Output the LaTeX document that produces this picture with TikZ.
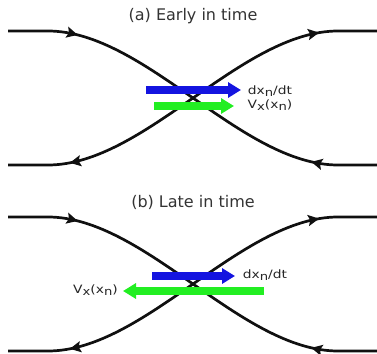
\documentclass[tikz,border=0pt]{standalone}
\usepackage{fontspec}
\setmainfont{DejaVu Sans}
\newfontfamily\labelfont[FakeStretch=1.2]{DejaVu Sans}
\usetikzlibrary{arrows.meta, decorations.markings}
\definecolor{velblue}{HTML}{1414E0}
\definecolor{fieldgreen}{HTML}{22EE22}
\definecolor{orbit}{HTML}{101010}
\newcommand{\lowidx}[1]{\raisebox{-2.2pt}{\fontsize{11}{13}\selectfont #1}}

\begin{document}
\begin{tikzpicture}[
  x=1pt, y=-1pt,
  flowtip/.tip={Stealth[length=11pt, width=11pt, inset=2pt]},
  orbitline/.style={draw=orbit, line width=2.7pt},
  inflow/.style 2 args={postaction={decorate, decoration={markings,
      mark=at position #1 with {\arrow{flowtip}},
      mark=at position #2 with {\arrowreversed{flowtip}}}}},
  outflow/.style 2 args={postaction={decorate, decoration={markings,
      mark=at position #1 with {\arrowreversed{flowtip}},
      mark=at position #2 with {\arrow{flowtip}}}}},
  velarrow/.style={-{Triangle[length=13pt, width=15pt]}, line width=7.5pt, draw=#1},
  titletext/.style={font=\fontsize{16}{19}\selectfont, text=black!80, anchor=base},
  veltext/.style={font=\labelfont\fontsize{11.5}{14}\selectfont, text=black!85,
    anchor=base, inner sep=0pt},
]

% Bounding box
\useasboundingbox (0,0) rectangle (377,353);

% =============================================
% (a) Early in time
% =============================================
\node[titletext] (atitle) at (193,21) {(a) Early in time};

\coordinate (a-tl) at (8,31);
\coordinate (a-tlb) at (48,31);
\coordinate (a-brb) at (338,165);
\coordinate (a-br) at (377,165);
\coordinate (a-bl) at (8,165);
\coordinate (a-blb) at (48,165);
\coordinate (a-trb) at (338,31);
\coordinate (a-tr) at (377,31);

% Separatrices
\draw[orbitline, inflow={70pt}{-66pt}] (a-tl) -- (a-tlb)
  .. controls +(97,0) and +(-97,0) .. (a-brb) -- (a-br);
\draw[orbitline, outflow={62pt}{-58pt}] (a-bl) -- (a-blb)
  .. controls +(97,0) and +(-97,0) .. (a-trb) -- (a-tr);

% Velocity arrows
\coordinate (a-dxs) at (146,90);
\coordinate (a-dxe) at (241,90);
\coordinate (a-vxs) at (154,106);
\coordinate (a-vxe) at (234,106);
\draw[velarrow=velblue] (a-dxs) -- (a-dxe);
\draw[velarrow=fieldgreen] (a-vxs) -- (a-vxe);

\node[veltext] (a-dxlbl) at (270,94.5) {dx\lowidx{n}/dt};
\node[veltext] (a-vxlbl) at (270,108.5) {V\lowidx{x}(x\lowidx{n})};

% =============================================
% (b) Late in time
% =============================================
\node[titletext] (btitle) at (193,207) {(b) Late in time};

\coordinate (b-tl) at (8,217);
\coordinate (b-tlb) at (48,217);
\coordinate (b-brb) at (338,351);
\coordinate (b-br) at (377,351);
\coordinate (b-bl) at (8,351);
\coordinate (b-blb) at (48,351);
\coordinate (b-trb) at (338,217);
\coordinate (b-tr) at (377,217);

% Separatrices
\draw[orbitline, inflow={70pt}{-66pt}] (b-tl) -- (b-tlb)
  .. controls +(97,0) and +(-97,0) .. (b-brb) -- (b-br);
\draw[orbitline, outflow={62pt}{-58pt}] (b-bl) -- (b-blb)
  .. controls +(97,0) and +(-97,0) .. (b-trb) -- (b-tr);

% Velocity arrows
\coordinate (b-dxs) at (152,276);
\coordinate (b-dxe) at (235,276);
\coordinate (b-vxs) at (264,291);
\coordinate (b-vxe) at (123,291);
\draw[velarrow=velblue] (b-dxs) -- (b-dxe);
\draw[velarrow=fieldgreen] (b-vxs) -- (b-vxe);

\node[veltext] (b-dxlbl) at (265,278) {dx\lowidx{n}/dt};
\node[veltext] (b-vxlbl) at (95.5,293.5) {V\lowidx{x}(x\lowidx{n})};

\end{tikzpicture}
\end{document}
